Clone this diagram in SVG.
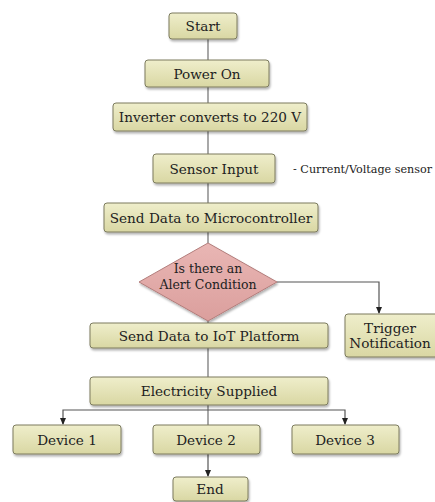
<svg xmlns="http://www.w3.org/2000/svg" width="435" height="502" viewBox="0 0 435 502">
<defs>
<linearGradient id="gBox" x1="0" y1="0" x2="0" y2="1">
<stop offset="0" stop-color="#efeecb"/>
<stop offset="1" stop-color="#d9d7a3"/>
</linearGradient>
<linearGradient id="gDia" x1="0" y1="0" x2="0" y2="1">
<stop offset="0" stop-color="#e9b6b4"/>
<stop offset="1" stop-color="#db9f9d"/>
</linearGradient>
<filter id="sh" x="-10%" y="-10%" width="130%" height="140%">
<feDropShadow dx="1" dy="2" stdDeviation="1.2" flood-color="#000" flood-opacity="0.3"/>
</filter>
<marker id="arr" markerWidth="8" markerHeight="8" refX="6" refY="4" orient="auto" markerUnits="userSpaceOnUse">
<path d="M0,1 L7,4 L0,7 Z" fill="#222"/>
</marker>
</defs>
<style>
.box{fill:url(#gBox);stroke:#7c7b5e;stroke-width:1;filter:url(#sh)}
.dia{fill:url(#gDia);stroke:#b27d7b;stroke-width:1;filter:url(#sh)}
.t{font-family:"DejaVu Serif","Liberation Serif",serif;font-size:13.6px;fill:#222;text-anchor:middle;dominant-baseline:central}
.ts{font-family:"DejaVu Serif","Liberation Serif",serif;font-size:12.5px;fill:#222;text-anchor:middle;dominant-baseline:central}
.note{font-family:"DejaVu Serif","Liberation Serif",serif;font-size:11.2px;fill:#222;dominant-baseline:central}
.c{fill:none;stroke:#7a7a7a;stroke-width:1.3}
.ca{fill:none;stroke:#555;stroke-width:1.2;marker-end:url(#arr)}
</style>
<rect width="435" height="502" fill="#ffffff"/>
<g id="connectors">
<line class="c" x1="208" y1="39" x2="208" y2="60"/>
<line class="c" x1="208" y1="87" x2="208" y2="103"/>
<line class="c" x1="208" y1="131" x2="208" y2="154"/>
<line class="c" x1="208" y1="183" x2="208" y2="203"/>
<line class="c" x1="208" y1="232" x2="208" y2="243"/>
<polyline class="ca" points="277,282 379,282 379,313"/>
<line class="c" x1="208" y1="321" x2="208" y2="323"/>
<line class="c" x1="208" y1="348" x2="208" y2="377"/>
<line class="c" x1="208" y1="405" x2="208" y2="425"/>
<polyline class="ca" points="208,410 63,410 63,424"/>
<polyline class="ca" points="208,410 345,410 345,424"/>
<line class="ca" x1="208" y1="454" x2="208" y2="476"/>
</g>
<g id="start"><rect class="box" x="169" y="13" width="68" height="26" rx="3"/><text class="t" x="203" y="26">Start</text></g>
<g id="power"><rect class="box" x="145" y="60" width="124" height="27" rx="3"/><text class="t" x="207" y="73.5">Power On</text></g>
<g id="inverter"><rect class="box" x="113" y="103" width="194" height="28" rx="3"/><text class="t" x="210" y="117">Inverter converts to 220 V</text></g>
<g id="sensor"><rect class="box" x="153" y="154" width="122" height="29" rx="3"/><text class="t" x="214" y="168.5">Sensor Input</text></g>
<g id="note"><text class="note" x="293" y="169">- Current/Voltage sensor</text></g>
<g id="senddata"><rect class="box" x="104" y="203" width="214" height="29" rx="3"/><text class="t" x="211" y="217.5">Send Data to Microcontroller</text></g>
<g id="decision"><polygon class="dia" points="208,243 277,282 208,321 139,282"/><text class="ts" x="208" y="268">Is there an</text><text class="ts" x="208" y="284">Alert Condition</text></g>
<g id="trigger"><rect class="box" x="345" y="314" width="93" height="43" rx="3"/><text class="t" x="390" y="328">Trigger</text><text class="t" x="390" y="343">Notification</text></g>
<g id="iot"><rect class="box" x="90" y="323" width="238" height="25" rx="3"/><text class="t" x="209" y="335.5">Send Data to IoT Platform</text></g>
<g id="electricity"><rect class="box" x="90" y="377" width="238" height="28" rx="3"/><text class="t" x="209" y="391">Electricity Supplied</text></g>
<g id="device1"><rect class="box" x="13" y="425" width="108" height="29" rx="3"/><text class="t" x="67" y="439.5">Device 1</text></g>
<g id="device2"><rect class="box" x="153" y="425" width="107" height="29" rx="3"/><text class="t" x="206" y="439.5">Device 2</text></g>
<g id="device3"><rect class="box" x="292" y="425" width="107" height="29" rx="3"/><text class="t" x="345" y="439.5">Device 3</text></g>
<g id="end"><rect class="box" x="173" y="477" width="75" height="24" rx="3"/><text class="t" x="210" y="489">End</text></g>
</svg>
